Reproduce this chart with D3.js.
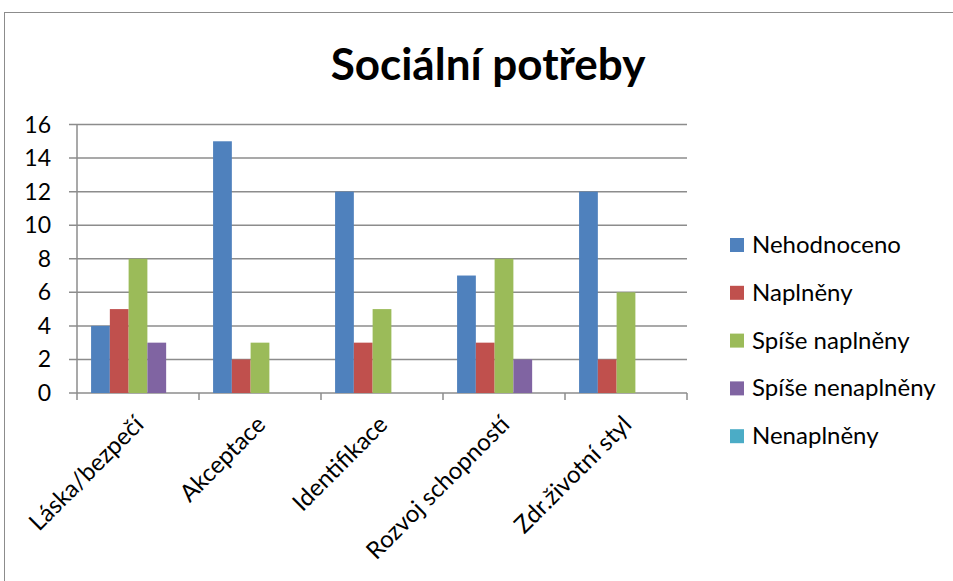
<!DOCTYPE html>
<html>
<head>
<meta charset="utf-8">
<script src="https://cdn.jsdelivr.net/npm/d3@7"></script>
<style>
  body { margin: 0; background: #fff; }
  text { font-family: Lato, "Open Sans", sans-serif; fill: #000; }
</style>
</head>
<body>
<svg width="953" height="581"></svg>
<script>
// chart data
const categories = ['Láska/bezpečí', 'Akceptace', 'Identifikace', 'Rozvoj schopností', 'Zdr.životní styl'];
const seriesNames = ['Nehodnoceno', 'Naplněny', 'Spíše naplněny', 'Spíše nenaplněny', 'Nenaplněny'];
const nehodnoceno = [4, 15, 12, 7, 12];
const naplneny = [5, 2, 3, 3, 2];
const spiseNaplneny = [8, 3, 5, 8, 6];
const spiseNenaplneny = [3, 0, 0, 2, 0];
const nenaplneny = [0, 0, 0, 0, 0];
const yTicks = [0, 2, 4, 6, 8, 10, 12, 14, 16];

const seriesValues = [nehodnoceno, naplneny, spiseNaplneny, spiseNenaplneny, nenaplneny];
const colors = ['#4F81BD', '#C0504D', '#9BBB59', '#8064A2', '#4BACC6'];

const svg = d3.select('svg');

// outer chart frame
svg.append('rect').attr('x', 4.5).attr('y', 12.5).attr('width', 1000).attr('height', 1000)
  .attr('fill', 'none').attr('stroke', '#8c8c8c').attr('stroke-width', 1);

svg.append('text').attr('x', 488).attr('y', 80).attr('text-anchor', 'middle')
  .style('font-size', '44px').style('font-weight', 'bold').text('Sociální potřeby');

const x = d3.scaleBand().domain(categories).range([77, 687]);
const xs = d3.scaleBand().domain(seriesNames).range([0, x.bandwidth()]).paddingOuter(0.75);
const y = d3.scaleLinear().domain([0, 16]).range([393, 124.5]);

// gridlines
svg.append('g').selectAll('line').data(yTicks).enter().append('line')
  .attr('x1', 69).attr('x2', 687)
  .attr('y1', d => y(d)).attr('y2', d => y(d))
  .attr('stroke', '#8c8c8c').attr('stroke-width', 1.5);

// y labels
svg.append('g').selectAll('text').data(yTicks).enter().append('text')
  .attr('x', 51).attr('y', d => y(d) + 8).attr('text-anchor', 'end')
  .style('font-size', '23px').text(d => d);

// bars
seriesNames.forEach((s, i) => {
  svg.append('g').selectAll('rect').data(seriesValues[i]).enter().append('rect')
    .attr('x', (d, j) => x(categories[j]) + xs(s))
    .attr('width', xs.bandwidth())
    .attr('y', d => y(d))
    .attr('height', d => y(0) - y(d))
    .attr('fill', colors[i]);
});

// axes lines
svg.append('line').attr('x1', 77).attr('x2', 77).attr('y1', 124.5).attr('y2', 393)
  .attr('stroke', '#8c8c8c').attr('stroke-width', 1.5);
const bounds = categories.map(c => x(c)).concat([687]);
svg.append('g').selectAll('line').data(bounds).enter().append('line')
  .attr('x1', d => d).attr('x2', d => d).attr('y1', 393).attr('y2', 400)
  .attr('stroke', '#8c8c8c').attr('stroke-width', 1.5);

// x labels
svg.append('g').selectAll('text').data(categories).enter().append('text')
  .attr('transform', d => `translate(${x(d) + x.bandwidth() / 2 + 7},${426}) rotate(-45)`)
  .attr('text-anchor', 'end')
  .style('font-size', '24px').text(d => d);

// legend
const leg = svg.append('g').selectAll('g').data(seriesNames).enter().append('g')
  .attr('transform', (d, i) => `translate(730,${245 + i * 47.8})`);
leg.append('rect').attr('x', 0).attr('y', -7).attr('width', 14).attr('height', 14)
  .attr('fill', (d, i) => colors[i]);
leg.append('text').attr('x', 22).attr('y', 8).style('font-size', '24px').text(d => d);
</script>
</body>
</html>
